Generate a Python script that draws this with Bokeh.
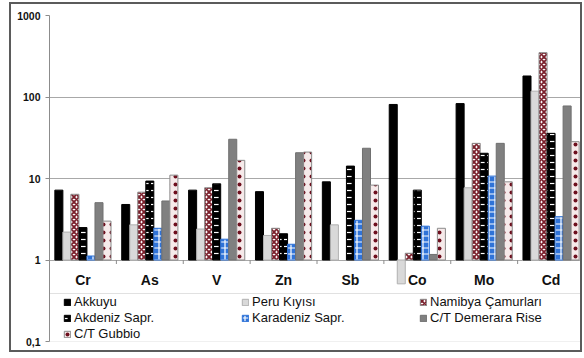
from bokeh.plotting import figure
from bokeh.models import (ColumnDataSource, FactorRange, Range1d, FixedTicker,
                          Legend, LegendItem, BoxAnnotation)
from bokeh.transform import dodge
from bokeh.core.properties import value
from bokeh.embed import file_html
from bokeh.resources import INLINE

nan = float("nan")

# Enrichment of trace elements per reference setting (log scale, 1 = no enrichment)
elements = ["Cr", "As", "V", "Zn", "Sb", "Co", "Mo", "Cd"]
akkuyu = [7.2, 4.8, 7.2, 6.9, 9.1, 81, 83, 181]
peru = [2.2, 2.7, 2.4, 2.0, 2.7, 0.51, 7.7, 118]
namibya = [6.4, 6.8, 7.7, 2.45, nan, 1.21, 27, 350]
akdeniz = [2.5, 9.3, 8.6, 2.1, 14.2, 7.2, 20.4, 35.8]
karadeniz = [1.12, 2.45, 1.8, 1.56, 3.07, 2.6, 10.7, 3.4]
demerara = [5.05, 5.3, 30.3, 20.7, 23.5, 1.17, 27, 77.6]
gubbio = [3.0, 11.0, 16.7, 21.1, 8.3, 2.45, 9.1, 28.3]

series_names = ["Akkuyu", "Peru Kıyısı", "Namibya Çamurları", "Akdeniz Sapr.",
                "Karadeniz Sapr.", "C/T Demerara Rise", "C/T Gubbio"]
series_keys = ["akkuyu", "peru", "namibya", "akdeniz", "karadeniz", "demerara", "gubbio"]
y_ticks = [0.1, 1, 10, 100, 1000]
y_tick_labels = ["0,1", "1", "10", "100", "1000"]

source = ColumnDataSource(dict(el=elements, akkuyu=akkuyu, peru=peru, namibya=namibya,
                               akdeniz=akdeniz, karadeniz=karadeniz,
                               demerara=demerara, gubbio=gubbio))

FONT = "Liberation Sans"
FRAME_H = 326
PANEL_BORDER = "2px solid #5b5b5b"

p = figure(x_range=FactorRange(*elements), y_axis_type="log",
           y_range=Range1d(y_ticks[0], y_ticks[-1]),
           width=573, height=350, margin=(2, 0, 0, 9),
           min_border_left=38, min_border_right=0, min_border_top=11, min_border_bottom=13,
           output_backend="svg", toolbar_location=None,
           styles={"border": PANEL_BORDER},
           stylesheets=[":host { border: %s; }" % PANEL_BORDER])
p.outline_line_color = None
p.background_fill_color = "white"
p.border_fill_color = "white"

# y axis
p.yaxis.ticker = FixedTicker(ticks=y_ticks)
p.yaxis.major_label_overrides = {t: s for t, s in zip(y_ticks, y_tick_labels)}
p.yaxis.minor_tick_line_color = None
p.yaxis.major_tick_in = 0
p.yaxis.major_tick_out = 4
p.yaxis.major_tick_line_color = "#8c8c8c"
p.yaxis.axis_line_color = "#8c8c8c"
p.yaxis.major_label_standoff = 5
p.yaxis.major_label_text_font = FONT
p.yaxis.major_label_text_font_style = "bold"
p.yaxis.major_label_text_font_size = "10.5px"
p.yaxis.major_label_text_color = "#111111"
p.xaxis.visible = False
p.xgrid.grid_line_color = None
p.ygrid.grid_line_color = "#a8a8a8"
p.ygrid.ticker = FixedTicker(ticks=y_ticks)

styles = [
    dict(fill_color="#000000", line_color="#000000"),
    dict(fill_color="#d9d9d9", line_color="#b0b0b0"),
    dict(fill_color="#ffffff", line_color="#8a8a8a", hatch_pattern="diagonal_cross",
         hatch_color="#7a1f2b", hatch_scale=5, hatch_weight=1.8),
    dict(fill_color="#000000", line_color="#000000", hatch_pattern="horizontal_dash",
         hatch_color="#ffffff", hatch_scale=7, hatch_weight=1.2),
    dict(fill_color="#2f73d8", line_color="#2f73d8", hatch_pattern="cross",
         hatch_color="#ffffff", hatch_scale=6, hatch_weight=1.2),
    dict(fill_color="#808080", line_color="#707070"),
    dict(fill_color="#f6eaea", line_color="#8a8a8a", hatch_pattern="dot",
         hatch_color="#6e0f1e", hatch_scale=8, hatch_weight=3),
]

bar_w = 0.12
renderers = []
for j, (key, st) in enumerate(zip(series_keys, styles)):
    r = p.vbar(x=dodge("el", (j - 3) * bar_w, range=p.x_range), top=key, bottom=1,
               width=bar_w, source=source, line_width=1, **st)
    renderers.append(r)

# category labels and separator ticks along the baseline at 1
px_per_decade = FRAME_H / 4
p.text(x=elements, y=[1] * len(elements), text=elements, y_offset=20,
       text_align="center", text_baseline="middle",
       text_font=value(FONT), text_font_style="bold", text_font_size="14px",
       text_color="#111111")
bounds = list(range(1, len(elements)))
p.segment(x0=bounds, x1=bounds, y0=[1] * len(bounds),
          y1=[10 ** (-4 / px_per_decade)] * len(bounds),
          line_color="#8c8c8c", line_width=1)

# legend frame
legend_top = y_ticks[0] * 10 ** (48 / px_per_decade)
p.add_layout(BoxAnnotation(left=0, right=len(elements), bottom=y_ticks[0], top=legend_top,
                           fill_color=None, line_color="#9a9a9a", line_width=1))

legend = Legend(items=[LegendItem(label=n, renderers=[r]) for n, r in zip(series_names, renderers)],
                orientation="horizontal", ncols=3, location=(14, 0),
                glyph_width=8, glyph_height=8, label_standoff=3, label_width=166,
                label_height=15, spacing=1, padding=2, margin=0,
                label_text_font=FONT, label_text_font_size="13px", label_text_color="#111111",
                background_fill_alpha=0, border_line_color=None)
p.add_layout(legend, "center")

open("out.html", "w").write(file_html(p, INLINE))
